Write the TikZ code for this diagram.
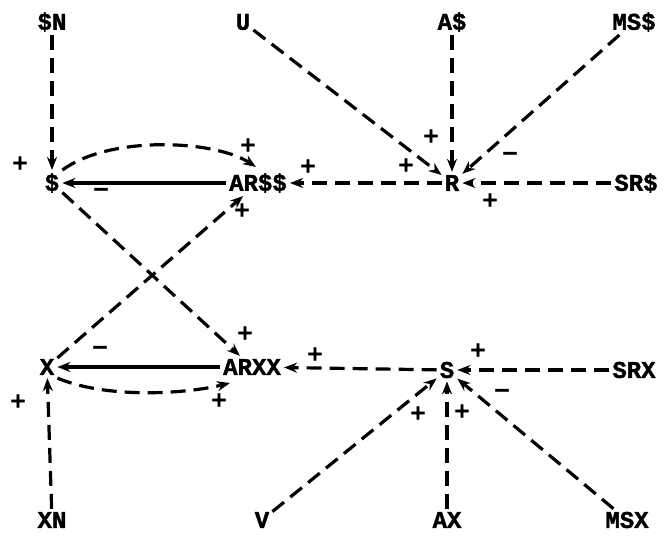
\documentclass[tikz,border=0pt]{standalone}
\usepackage{fontspec}
\usetikzlibrary{arrows.meta}
\newfontfamily\monob{Liberation Mono}[BoldFeatures={FakeBold=1.5}]
\newfontfamily\sgnf{DejaVu Sans}[BoldFeatures={FakeBold=1.5}]
\begin{document}
\begin{tikzpicture}[x=1pt,y=-1pt,
  lab/.style={font=\monob\bfseries\fontsize{24}{24}\selectfont, inner sep=3pt},
  sgn/.style={font=\sgnf\bfseries\fontsize{21}{21}\selectfont, inner sep=0pt},
  dsh/.style={dash pattern=on 15pt off 8pt, line width=3.2pt, -{Stealth[length=13pt,width=10pt]}},
  sol/.style={line width=3.4pt, -{Stealth[length=13pt,width=10pt]}}]
\path[use as bounding box] (0,0) rectangle (666,538);
% nodes
\node[lab] (sn)   at (52,22)  {\$N};
\node[lab] (u)    at (243,22) {U};
\node[lab] (as)   at (452,22) {A\$};
\node[lab] (mss)  at (634,22) {MS\$};
\node[lab] (dol)  at (52,183) {\$};
\node[lab] (arss) at (258,183) {AR\$\$};
\node[lab] (r)    at (452,183) {R};
\node[lab] (srs)  at (636,183) {SR\$};
\node[lab] (x)    at (47,367) {X};
\node[lab] (arxx) at (252,367) {ARXX};
\node[lab] (s)    at (447,370) {S};
\node[lab] (srx)  at (634,370) {SRX};
\node[lab] (xn)   at (52,520) {XN};
\node[lab] (v)    at (262,520) {V};
\node[lab] (ax)   at (447,520) {AX};
\node[lab] (msx)  at (627,520) {MSX};
\coordinate (c1) at (256,167);
\coordinate (c2) at (230,383);
% upper loop
\draw[dsh] (sn) -- (dol);
\draw[dsh] (dol.north east) .. controls (110,135) and (215,140) .. (c1);
\draw[sol] (arss) -- (dol);
\draw[dsh] (r) -- (arss);
\draw[dsh] (u) -- (r);
\draw[dsh] (as) -- (r);
\draw[dsh] (mss) -- (r);
\draw[dsh] (srs) -- (r);
% cross
\draw[dsh] (dol) -- (arxx);
\draw[dsh] (x) -- (arss);
% lower loop
\draw[sol] (arxx) -- (x);
\draw[dsh] (x.south east) .. controls (110,400) and (190,393) .. (c2);
\draw[dsh] (s) -- (arxx);
\draw[dsh] (xn) -- (x);
\draw[dsh] (v) -- (s);
\draw[dsh] (ax) -- (s);
\draw[dsh] (msx) -- (s);
\draw[dsh] (srx) -- (s);
% signs
\node[sgn] (p1) at (20,163) {+};
\node[sgn] (p2) at (248,145) {+};
\node[sgn] (m1) at (101,192) {−};
\node[sgn] (p3) at (308,166) {+};
\node[sgn] (p4) at (242,210) {+};
\node[sgn] (p5) at (431,136) {+};
\node[sgn] (p6) at (406,165) {+};
\node[sgn] (m2) at (510,156) {−};
\node[sgn] (p7) at (490,200) {+};
\node[sgn] (p8) at (245,333) {+};
\node[sgn] (m3) at (100,350) {−};
\node[sgn] (p9) at (219,400) {+};
\node[sgn] (p10) at (315,354) {+};
\node[sgn] (p11) at (18,401) {+};
\node[sgn] (p12) at (418,413) {+};
\node[sgn] (p13) at (462,411) {+};
\node[sgn] (m4) at (502,393) {−};
\node[sgn] (p14) at (478,350) {+};
\end{tikzpicture}
\end{document}
